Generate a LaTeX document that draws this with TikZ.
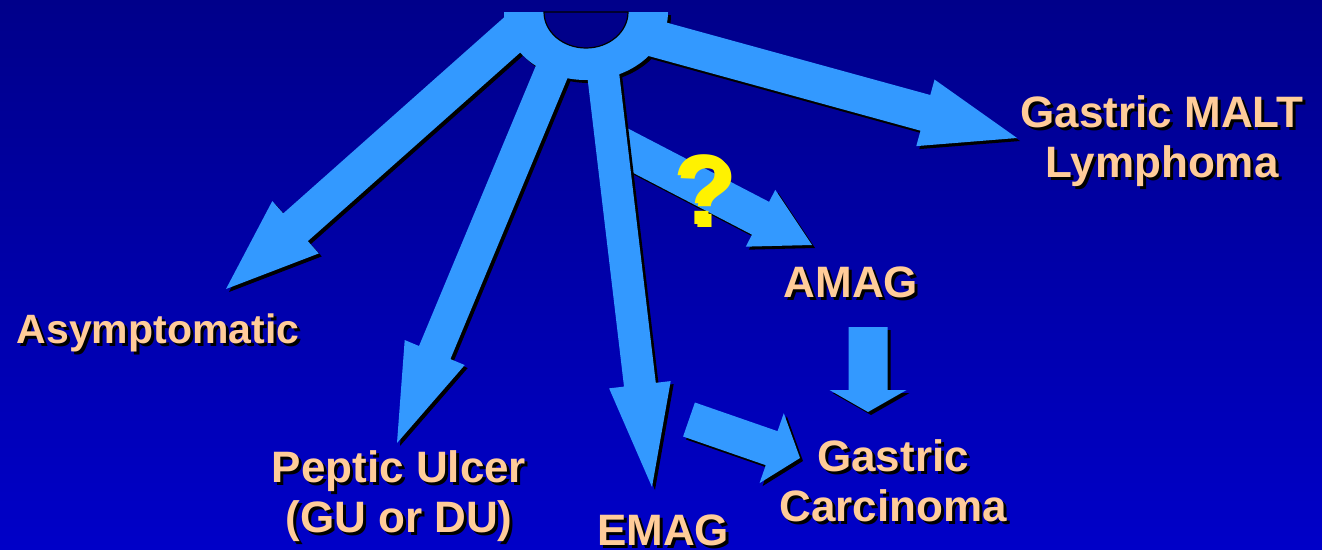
\documentclass[tikz,border=0pt]{standalone}
\usepackage{fontspec}
\setmainfont{Liberation Sans}
\usetikzlibrary{calc}

\definecolor{bgtop}{RGB}{0,0,138}
\definecolor{bgbot}{RGB}{0,0,200}
\definecolor{armblue}{RGB}{51,153,255}
\definecolor{peach}{RGB}{255,204,153}

\tikzset{
  armfill/.style={fill=armblue},
  shadowfill/.style={fill=black, transform canvas={shift={(3pt,-3pt)}}},
  lbl/.style={font=\fontsize{44}{50}\selectfont\bfseries, text=peach, align=center, anchor=base, inner sep=0pt},
  lblshadow/.style={lbl, text=black, xshift=3pt, yshift=-3pt}
}

% block arrow: style, start, tip, half shaft, half head, head length
\newcommand{\fatarrow}[6]{%
  \coordinate (hb) at ($(#3)!#6!(#2)$);
  \fill[#1] ($(#2)!#4!90:(#3)$) -- ($(hb)!#4!90:(#3)$) -- ($(hb)!#5!90:(#3)$) -- (#3)
    -- ($(hb)!#5!-90:(#3)$) -- ($(hb)!#4!-90:(#3)$) -- ($(#2)!#4!-90:(#3)$) -- cycle;}
\newcommand{\hubring}[1]{%
  \fill[#1] (504,12) arc[start angle=180, end angle=0, x radius=82, y radius=68]
    -- (628,12) arc[start angle=0, end angle=180, x radius=42, y radius=36] -- cycle;}
% label with its drop shadow; the point is the baseline of the last line
\newcommand{\shadowlabel}[4][]{%
  \node[lblshadow, #1] at (#3) {#4};
  \node[lbl, #1] (#2) at (#3) {#4};}

\begin{document}
\begin{tikzpicture}[x=1pt,y=-1pt]
  \fill[top color=bgtop, bottom color=bgbot] (0,0) rectangle (1322,549);
  \useasboundingbox (0,0) rectangle (1322,549);

  % connector ends
  \coordinate (asyS) at (574,-20);  \coordinate (asyT) at (226,289);
  \coordinate (pepS) at (590,-20);  \coordinate (pepT) at (397,443);
  \coordinate (emgS) at (592,-20);  \coordinate (emgT) at (652,487);
  \coordinate (mltS) at (540,7);    \coordinate (mltT) at (1017,138);
  \coordinate (qS) at (610,140);    \coordinate (qT) at (812,245);
  \coordinate (amgS) at (868,327);  \coordinate (amgT) at (868,412);
  \coordinate (egcS) at (689,419.5);\coordinate (egcT) at (800,458);

  % the ? branch sits under the EMAG arm
  \fatarrow{shadowfill}{qS}{qT}{18.5pt}{32pt}{58pt}
  \fatarrow{armfill}{qS}{qT}{18.5pt}{32pt}{58pt}

  % hub and its four arms
  \begin{scope}
    \clip (0,12) rectangle (1322,549);
    \foreach \sty in {shadowfill,armfill}{
      \hubring{\sty}
      \foreach \src/\dst/\sw/\hw/\hl in {asyS/asyT/18.5/35/93, pepS/pepT/17/32.5/98,
          emgS/emgT/16/31/103, mltS/mltT/18.5/34.5/95}
        {\fatarrow{\sty}{\src}{\dst}{\sw pt}{\hw pt}{\hl pt}}
    }
  \end{scope}
  \fill[bgtop, draw=black, line width=1.2pt] (628,12)
    arc[start angle=0, end angle=180, x radius=42, y radius=36] -- cycle;

  \foreach \sty in {shadowfill,armfill}{
    \fatarrow{\sty}{amgS}{amgT}{19.5pt}{38.5pt}{22pt}
    \fatarrow{\sty}{egcS}{egcT}{18pt}{37pt}{30pt}
  }

  \shadowlabel[font=\fontsize{41}{50}\selectfont\bfseries]{asym}{158,343}{Asymptomatic}
  \shadowlabel{pept}{399,532}{Peptic Ulcer\\(GU or DU)}
  \shadowlabel{emag}{663,545}{EMAG}
  \shadowlabel{amag}{851,297}{AMAG}
  \shadowlabel{gcar}{893,521}{Gastric\\Carcinoma}
  \shadowlabel{malt}{1162,177}{Gastric MALT\\Lymphoma}

  \shadowlabel[font=\fontsize{100}{100}\selectfont\bfseries, text=yellow]{qmark}{704,224}{?}
\end{tikzpicture}
\end{document}
